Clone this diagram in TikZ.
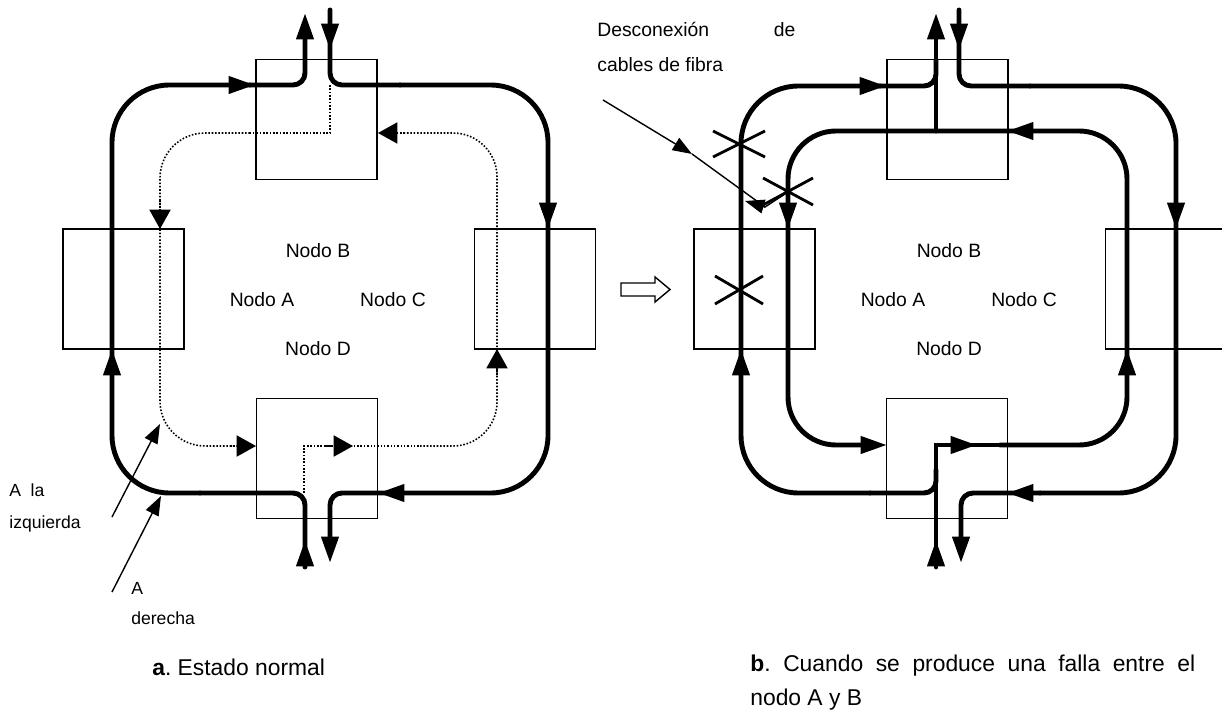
\documentclass[tikz,border=0pt]{standalone}
\usepackage{fontspec}
\setmainfont{Liberation Sans}
\usetikzlibrary{arrows.meta,positioning}
\frenchspacing

\begin{document}
\begin{tikzpicture}[x=0.02cm,y=-0.02cm]
\tikzstyle{caja}=[draw,line width=0.8pt,minimum width=2.42cm,minimum height=2.4cm,inner sep=0pt]
\tikzstyle{fibra}=[line width=2.8pt,line cap=round]
\tikzstyle{punta}=[line width=2.8pt,-{Triangle[length=15pt,width=9.5pt]}]
\tikzstyle{punteado}=[line width=0.9pt,densely dotted]
\tikzstyle{puntap}=[line width=0.9pt,densely dotted,-{Triangle[length=11pt,width=12pt]}]
\tikzstyle{indicador}=[line width=0.8pt,-{Triangle[length=11pt,width=8pt]}]
\tikzstyle{cruz}=[line width=1.6pt]
\tikzstyle{nodo}=[inner sep=0pt,font=\fontsize{11}{13}\selectfont]
\tikzstyle{etiq}=[inner sep=0pt,anchor=base west,font=\fontsize{10}{12}\selectfont]
\clip (0,0) rectangle (1222,719);

% a. estado normal
\node[caja] (A1) at (123.5,289) {};
\node[caja] (B1) at (316.5,119.5) {};
\node[caja] (C1) at (535,289) {};
\node[caja] (D1) at (317,458.5) {};
\node[nodo] (nB1) at (318,251) {Nodo B};
\node[nodo] (nA1) at (262,300) {Nodo A};
\node[nodo] (nC1) at (393,300) {Nodo C};
\node[nodo] (nD1) at (318,349) {Nodo D};

\draw[fibra,rounded corners=0.24cm] (305,567) -- (305,493) -- (200,493);
\draw[fibra,rounded corners=1.15cm] (200,493) -- (112,493) -- (112,85) -- (250,85);
\draw[fibra,rounded corners=0.24cm] (250,85) -- (305,85) -- (305,40);
\draw[punta] (305,567) -- (305,540);
\draw[punta] (112,380) -- (112,349);
\draw[punta] (225,85) -- (255,85);
\draw[punta] (305,45) -- (305,13);

\draw[fibra,rounded corners=0.24cm] (330,10) -- (330,85) -- (400,85);
\draw[fibra,rounded corners=1.15cm] (400,85) -- (548,85) -- (548,493) -- (400,493);
\draw[fibra,rounded corners=0.24cm] (400,493) -- (330,493) -- (330,540);
\draw[punta] (330,10) -- (330,50);
\draw[punta] (548,200) -- (548,229);
\draw[punta] (410,493) -- (378,493);
\draw[punta] (330,535) -- (330,563);

\draw[punteado] (330,85) -- (330,133) -- (250,133);
\draw[punteado,rounded corners=0.9cm] (250,133) -- (160,133) -- (160,446) -- (240,446);
\draw[puntap] (160,200) -- (160,229);
\draw[puntap] (230,446) -- (256,446);
\draw[punteado] (304,493) -- (304,446) -- (420,446);
\draw[punteado,rounded corners=0.88cm] (420,446) -- (497,446) -- (497,133) -- (400,133);
\draw[puntap] (325,446) -- (353,446);
\draw[puntap] (497,375) -- (497,349);
\draw[puntap] (405,133) -- (378,133);

\node[etiq] (izq1) at (9,496) {A\hspace{0.55em}la};
\node[etiq] (izq2) at (9,528) {izquierda};
\node[etiq] (der1) at (131,594) {A};
\node[etiq] (der2) at (131,624) {derecha};
\coordinate (pi) at (112,517);
\coordinate (pd) at (112,592);
\draw[indicador] (pi) -- (160,424);
\draw[indicador] (pd) -- (161,496);

\node[anchor=base west,inner sep=0pt,font=\fontsize{13}{16}\selectfont] (capA) at (152,675) {\textbf{a}. Estado normal};

% flecha hueca
\draw[line width=0.8pt] (621,283) -- (655,283) -- (655,277) -- (670,289.5) -- (655,302) -- (655,296) -- (621,296) -- cycle;

% b. falla entre A y B
\node[caja] (A2) at (754.5,289) {};
\node[caja] (B2) at (947.5,119.5) {};
\node[caja] (C2) at (1166,289) {};
\node[caja] (D2) at (947,458.5) {};
\node[nodo] (nB2) at (949,251) {Nodo B};
\node[nodo] (nA2) at (893,300) {Nodo A};
\node[nodo] (nC2) at (1024,300) {Nodo C};
\node[nodo] (nD2) at (949,349) {Nodo D};

\draw[fibra] (936,567) -- (936,445) -- (1000,445);
\draw[fibra,rounded corners=0.24cm] (936,470) -- (936,493) -- (870,493);
\draw[fibra,rounded corners=1.15cm] (870,493) -- (741,493) -- (741,86) -- (880,86);
\draw[fibra,rounded corners=0.24cm] (880,86) -- (936,86) -- (936,60);
\draw[fibra] (936,131) -- (936,40);
\draw[punta] (936,567) -- (936,540);
\draw[punta] (741,380) -- (741,349);
\draw[punta] (856,86) -- (886,86);
\draw[punta] (936,45) -- (936,13);

\draw[fibra,rounded corners=0.24cm] (959,10) -- (959,86) -- (1030,86);
\draw[fibra,rounded corners=1.15cm] (1030,86) -- (1176,86) -- (1176,493) -- (1040,493);
\draw[fibra,rounded corners=0.24cm] (1040,493) -- (961,493) -- (961,540);
\draw[punta] (959,10) -- (959,50);
\draw[punta] (1176,200) -- (1176,229);
\draw[punta] (1040,493) -- (1007,493);
\draw[punta] (961,535) -- (961,563);

\draw[fibra,rounded corners=0.96cm] (1000,445) -- (1127,445) -- (1127,131) -- (788,131) -- (788,445) -- (870,445);
\draw[punta] (950,445) -- (977,445);
\draw[punta] (1127,375) -- (1127,349);
\draw[punta] (1035,131) -- (1007,131);
\draw[punta] (788,200) -- (788,229);
\draw[punta] (860,445) -- (887,445);

\draw[cruz] (713,131) -- (765,157) (713,157) -- (765,131);
\draw[cruz] (763,178) -- (813,205) (763,205) -- (813,178);
\draw[cruz] (715,276) -- (763,304) (715,304) -- (763,276);

\node[anchor=north west,inner sep=0pt,text width=3.96cm,align=justify,font=\fontsize{11}{20}\selectfont] (desc) at (597,22) {Desconexión de\linebreak cables de fibra};
\draw[indicador] (603,100) -- (692,154);
\draw[line width=0.8pt] (692,154) -- (765,207) -- (788,192);
\draw[indicador] (765,207) -- (745,201);

\node[anchor=north west,inner sep=0pt,text width=8.9cm,align=justify,font=\fontsize{13}{19}\selectfont] (capB) at (750,655) {\textbf{b}. Cuando se produce una falla entre el\linebreak nodo A y B};
\end{tikzpicture}
\end{document}
